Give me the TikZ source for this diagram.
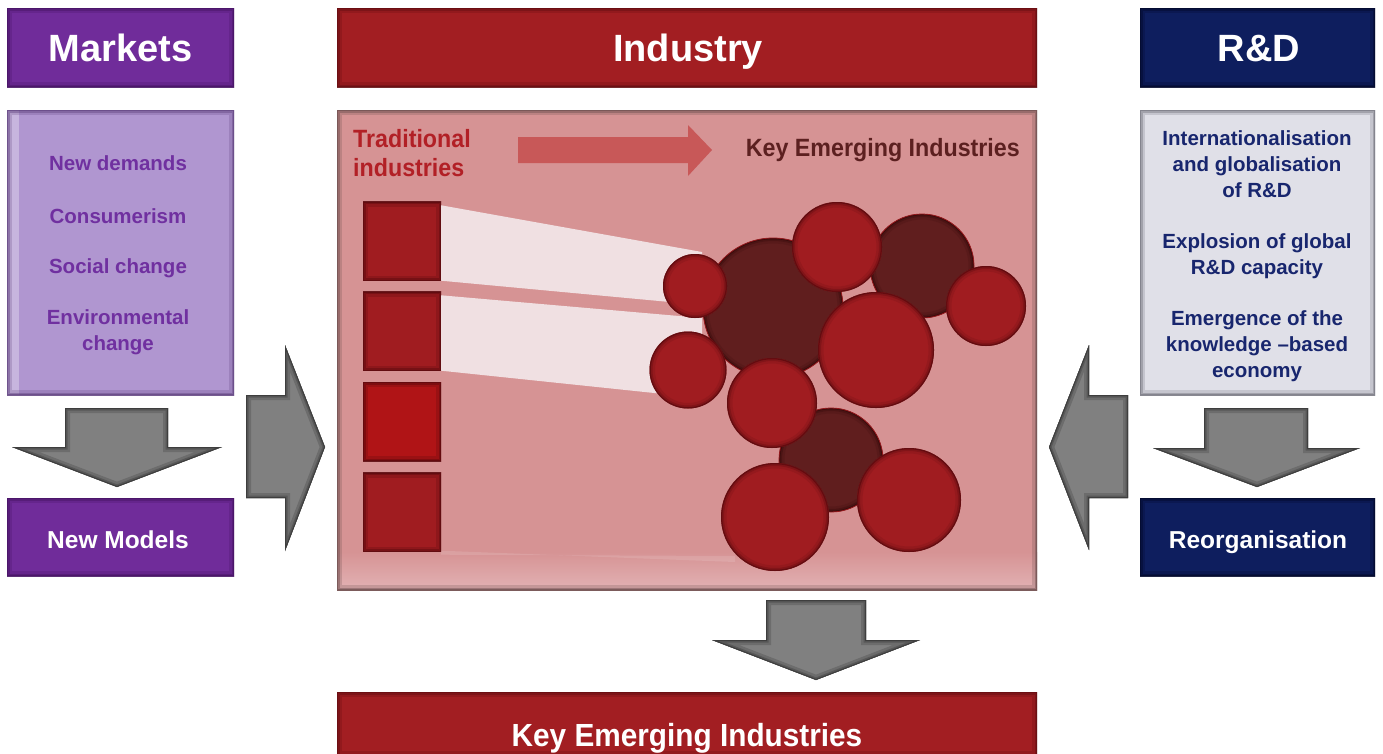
\documentclass[tikz,border=0pt]{standalone}
\usepackage{fontspec}
\setmainfont{Liberation Sans}
\newfontfamily\condfont{Liberation Sans}[FakeStretch=0.93]
\usetikzlibrary{calc}
\definecolor{mkpurple}{RGB}{112,44,154}
\definecolor{mkedge}{RGB}{70,20,100}
\definecolor{mklight}{RGB}{176,150,208}
\definecolor{mklightedge}{RGB}{100,70,130}
\definecolor{mktext}{RGB}{112,48,160}
\definecolor{indred}{RGB}{162,30,34}
\definecolor{indedge}{RGB}{100,14,18}
\definecolor{indpink}{RGB}{214,147,148}
\definecolor{indpinkedge}{RGB}{110,80,80}
\definecolor{indlight}{RGB}{226,178,180}
\definecolor{rdnavy}{RGB}{14,30,94}
\definecolor{rdedge}{RGB}{4,10,45}
\definecolor{rdgrey}{RGB}{224,224,232}
\definecolor{rdgreyedge}{RGB}{120,120,130}
\definecolor{rdtext}{RGB}{24,38,110}
\definecolor{arrgray}{RGB}{128,128,128}
\definecolor{arrshadeA}{RGB}{108,108,108}
\definecolor{arrshadeB}{RGB}{88,88,88}
\definecolor{arrshadeC}{RGB}{62,62,62}
\definecolor{beamc}{RGB}{240,224,226}
\definecolor{sqred}{RGB}{160,28,32}
\definecolor{sqbright}{RGB}{176,20,22}
\definecolor{sqrim}{RGB}{90,10,14}
\definecolor{ballred}{RGB}{160,28,32}
\definecolor{ballrim}{RGB}{90,10,14}
\definecolor{balldark}{RGB}{96,30,30}
\definecolor{balldarkrim}{RGB}{50,8,8}
\definecolor{balloutline}{RGB}{150,24,28}
\definecolor{tradred}{RGB}{178,32,38}
\definecolor{keidark}{RGB}{92,32,32}
\definecolor{inarrow}{RGB}{200,88,88}
\newcommand{\grayarr}[1]{%
  \begin{scope}
    \clip #1;
    \fill[arrgray] #1;
    \draw[arrshadeA, line width=10pt] #1;
    \draw[arrshadeB, line width=5pt] #1;
    \draw[arrshadeC, line width=2pt] #1;
  \end{scope}}
\tikzset{
  hdr/.style={font=\fontsize{38}{40}\selectfont\bfseries, text=white, inner sep=0pt, anchor=base},
  lbl/.style={font=\fontsize{24.5}{28}\selectfont\bfseries, text=white, inner sep=0pt, anchor=base},
  mklist/.style={font=\fontsize{20.5}{26}\selectfont\bfseries, text=mktext, align=center, inner sep=0pt},
  rdlist/.style={font=\fontsize{20.5}{26}\selectfont\bfseries, text=rdtext, align=center, inner sep=0pt},
  boxshadow/.style={path picture={
      \draw[#1, line width=10pt, opacity=0.25] (path picture bounding box.south west) rectangle (path picture bounding box.north east);
      \draw[#1, line width=5pt, opacity=0.45] (path picture bounding box.south west) rectangle (path picture bounding box.north east);
      \draw[#1, line width=2pt, opacity=0.7] (path picture bounding box.south west) rectangle (path picture bounding box.north east);}},
  sqbox/.style={boxshadow=sqrim, minimum width=78pt, minimum height=79pt, inner sep=0pt},
  ballshadow/.style={path picture={
      \draw[#1, line width=11pt, opacity=0.16] let \p1=(path picture bounding box.north east), \p2=(path picture bounding box.center), \n1={\x1-\x2} in (\p2) circle[radius=\n1];
      \draw[#1, line width=6pt, opacity=0.32] let \p1=(path picture bounding box.north east), \p2=(path picture bounding box.center), \n1={\x1-\x2} in (\p2) circle[radius=\n1];
      \draw[#1, line width=2.5pt, opacity=0.75] let \p1=(path picture bounding box.north east), \p2=(path picture bounding box.center), \n1={\x1-\x2} in (\p2) circle[radius=\n1];}},
  redball/.style={circle, fill=ballred, ballshadow=ballrim, inner sep=0pt},
  darkball/.style={circle, fill=balldark, ballshadow=balldarkrim, draw=balloutline, line width=0.8pt, inner sep=0pt},
  beam/.style={fill=beamc}
}
\begin{document}
\begin{tikzpicture}[x=1pt,y=-1pt]
\useasboundingbox (0,0) rectangle (1383,753);
\fill[white] (0,0) rectangle (1383,753);

% ---------- Markets column ----------
\node[fill=mkpurple, boxshadow=mkedge, minimum width=227pt, minimum height=79pt] (markets) at (120.5,47.5) {};
\node[hdr] (marketsT) at (120.5,61) {Markets};
\node[fill=mklight, minimum width=227pt, minimum height=285pt] (mkbox) at (120.5,252.5) {};
\fill[white, opacity=0.3] (mkbox.north west) rectangle ([xshift=12pt]mkbox.south west);
\node[boxshadow=mklightedge, minimum width=227pt, minimum height=285pt] (mkboxs) at (mkbox) {};
\node[mklist] (mk1) at (118,163) {New demands};
\node[mklist] (mk2) at (118,216) {Consumerism};
\node[mklist] (mk3) at (118,268) {Social change};
\node[mklist] (mk4) at (118,332) {Environmental\\change};
\node[fill=mkpurple, boxshadow=mkedge, minimum width=227pt, minimum height=78pt] (newmodels) at (120.5,537) {};
\node[lbl] (newmodelsT) at (118,548) {New Models};

\grayarr{(65,408) -- (168,408) -- (168,447) -- (222,447) -- (117,487) -- (12,447) -- (65,447) -- cycle}
\grayarr{(246,395) -- (285,395) -- (285,345) -- (325,447) -- (285,551) -- (285,498) -- (246,498) -- cycle}

% ---------- Industry column ----------
\node[fill=indred, boxshadow=indedge, minimum width=700pt, minimum height=79pt] (industry) at (687,47.5) {};
\node[hdr] (industryT) at (688,61) {Industry};
\node[fill=indpink, minimum width=700pt, minimum height=480pt] (indbox) at (687,350) {};
\shade[top color=indpink, bottom color=indlight] (337,552) rectangle (1037,590);

\node[font=\condfont\fontsize{25}{29}\selectfont\bfseries, text=tradred, align=left, anchor=west, inner sep=0pt] (trad) at (353,153) {Traditional\\industries};
\fill[inarrow] (518,137) -- (688,137) -- (688,125) -- (712,150) -- (688,176) -- (688,163) -- (518,163) -- cycle;
\node[font=\condfont\fontsize{25}{29}\selectfont\bfseries, text=keidark, anchor=east, inner sep=0pt] (keiin) at (1020,150) {Key Emerging Industries};

% squares
\node[sqbox, fill=sqred] (s1) at (402,241) {};
\node[sqbox, fill=sqred] (s2) at (402,331) {};
\node[sqbox, fill=sqbright] (s3) at (402,421.5) {};
\node[sqbox, fill=sqred] (s4) at (402,512) {};

% light beams
\fill[beam] ([yshift=-4pt]s1.north east) -- (702,252) -- (702,305) -- (s1.south east) -- cycle;
\fill[beam] ([yshift=-4pt]s2.north east) -- (702,318) -- (702,398) -- (s2.south east) -- cycle;
\fill[white, opacity=0.12] ([yshift=-3pt]s4.south east) -- (735,556) -- (735,562) -- ([yshift=1pt]s4.south east) -- cycle;

% circles: dark ones first
\node[darkball, minimum size=140pt] (d1) at (773,308) {};
\node[darkball, minimum size=104pt] (d2) at (922,266) {};
\node[darkball, minimum size=104pt] (d3) at (831,460) {};
\node[redball, minimum size=64pt] (r1) at (695,286) {};
\node[redball, minimum size=90pt] (r2) at (837,247) {};
\node[redball, minimum size=80pt] (r3) at (986,306) {};
\node[redball, minimum size=116pt] (r4) at (876,350) {};
\node[redball, minimum size=77pt] (r5) at (688,370) {};
\node[redball, minimum size=90pt] (r6) at (772,403) {};
\node[redball, minimum size=108pt] (r7) at (775,517) {};
\node[redball, minimum size=104pt] (r8) at (909,500) {};

\node[boxshadow=indpinkedge, minimum width=700pt, minimum height=480pt] (indboxs) at (indbox) {};

\grayarr{(766,600) -- (866,600) -- (866,640) -- (920,640) -- (816,680) -- (712,640) -- (766,640) -- cycle}
\node[fill=indred, boxshadow=indedge, minimum width=700pt, minimum height=64pt] (keibox) at (687,724) {};
\node[font=\condfont\fontsize{32}{36}\selectfont\bfseries, text=white, inner sep=0pt, anchor=base] (keitext) at (687,746) {Key Emerging Industries};

% ---------- R&D column ----------
\node[fill=rdnavy, boxshadow=rdedge, minimum width=235pt, minimum height=79pt] (rd) at (1257.5,47.5) {};
\node[hdr] (rdT) at (1259,61) {R\&D};
\node[fill=rdgrey, boxshadow=rdgreyedge, minimum width=235pt, minimum height=285pt] (rdbox) at (1257.5,252.5) {};
\node[rdlist] (rd1) at (1257,164.5) {Internationalisation\\and globalisation\\of R\&D};
\node[rdlist] (rd2) at (1257,256) {Explosion of global\\R\&D capacity};
\node[rdlist] (rd3) at (1257,346) {Emergence of the\\knowledge \textendash based\\economy};
\node[fill=rdnavy, boxshadow=rdedge, minimum width=235pt, minimum height=78pt] (reorg) at (1257.5,537) {};
\node[lbl] (reorgT) at (1258,548) {Reorganisation};

\grayarr{(1204,408) -- (1308,408) -- (1308,448) -- (1360,448) -- (1257,487) -- (1153,448) -- (1204,448) -- cycle}
\grayarr{(1128,395) -- (1089,395) -- (1089,345) -- (1049,447) -- (1089,550) -- (1089,498) -- (1128,498) -- cycle}
\end{tikzpicture}
\end{document}
